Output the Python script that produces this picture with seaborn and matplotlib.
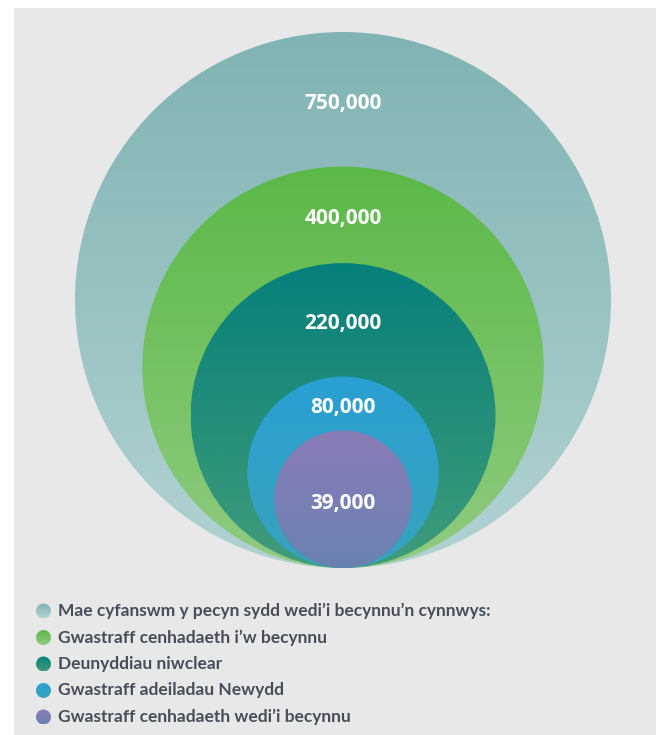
import numpy as np
import seaborn as sns
import matplotlib.pyplot as plt
from matplotlib.patches import Circle, Rectangle
from matplotlib.colors import LinearSegmentedColormap

sns.set_theme(style="white")
plt.rcParams['font.family'] = ['Open Sans', 'DejaVu Sans']

# Datos
labels = [
    "Mae cyfanswm y pecyn sydd wedi\u2019i becynnu\u2019n cynnwys:",
    "Gwastraff cenhadaeth i\u2019w becynnu",
    "Deunyddiau niwclear",
    "Gwastraff adeiladau Newydd",
    "Gwastraff cenhadaeth wedi\u2019i becynnu",
]
values = [750000, 400000, 220000, 80000, 39000]
value_text = ["750,000", "400,000", "220,000", "80,000", "39,000"]

# colores (arriba, abajo) del degradado
top_colors = ["#80b3b3", "#5bb947", "#06807a", "#2a9fd3", "#8a7cb8"]
bottom_colors = ["#b2d2d2", "#90cb80", "#409c7a", "#38a3bb", "#6a82b0"]

W, H = 656, 735
fig = plt.figure(figsize=(W / 100, H / 100), dpi=100)
fig.patch.set_facecolor("white")
ax = fig.add_axes([0, 0, 1, 1])
ax.set_xlim(0, W)
ax.set_ylim(H, 0)
ax.set_aspect("equal")
ax.axis("off")

# panel gris
ax.add_patch(Rectangle((14, 8), W, H, facecolor="#e8e8e8", edgecolor="none", zorder=0))

# escala de radio (potencia) anclada al circulo mayor
r_max = 268
power = 0.46
radii = [r_max * (v / values[0]) ** power for v in values]
cx, base_y = 343, 568  # punto tangente inferior

tops = []
for i, r in enumerate(radii):
    cy = base_y - r
    tops.append(base_y - 2 * r)
    cmap = LinearSegmentedColormap.from_list(f"g{i}", [top_colors[i], bottom_colors[i]])
    grad = np.linspace(0, 1, 256).reshape(-1, 1)
    im = ax.imshow(grad, cmap=cmap, extent=(cx - r, cx + r, cy + r, cy - r),
                   aspect="auto", zorder=1 + i, interpolation="bilinear")
    clip = Circle((cx, cy), r, transform=ax.transData)
    im.set_clip_path(clip)

# etiquetas de valor
for i, txt in enumerate(value_text):
    if i < len(values) - 1:
        y = (tops[i] + tops[i + 1]) / 2 + 4
    else:
        y = base_y - radii[i] + 4
    ax.text(cx, y, txt, color="white", fontsize=15, fontweight="bold",
            ha="center", va="center", zorder=10)

# leyenda
leg_y0, leg_dy = 611, 26.5
for i, lab in enumerate(labels):
    y = leg_y0 + i * leg_dy
    cmap = LinearSegmentedColormap.from_list(f"l{i}", [top_colors[i], bottom_colors[i]])
    grad = np.linspace(0, 1, 64).reshape(-1, 1)
    im = ax.imshow(grad, cmap=cmap, extent=(36, 51, y + 7.5, y - 7.5), aspect="auto", zorder=5)
    im.set_clip_path(Circle((43.5, y), 7.5, transform=ax.transData))
    ax.text(58, y, lab, color="#474d59", fontsize=12.5, fontweight="bold",
            family=["Lato", "DejaVu Sans"], ha="left", va="center", zorder=10)

plt.savefig("out.png", dpi=100)
plt.close(fig)
